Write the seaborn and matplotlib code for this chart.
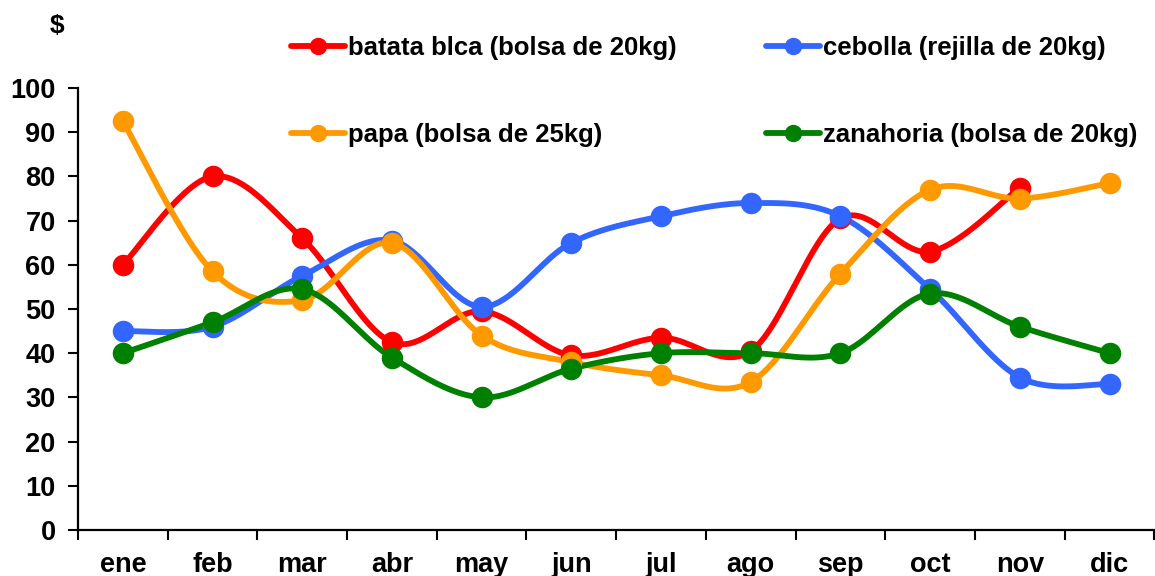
import matplotlib.pyplot as plt
from matplotlib.lines import Line2D
from matplotlib.ticker import FixedLocator, NullFormatter
import numpy as np
import pandas as pd
import seaborn as sns

MONTHS = ["ene", "feb", "mar", "abr", "may", "jun", "jul", "ago", "sep", "oct", "nov", "dic"]

BATATA = [60, 80, 66, 42.5, 49.5, 39.5, 43.5, 40.5, 70.5, 63, 77.5, np.nan]
CEBOLLA = [45, 46, 57.5, 65.5, 50.5, 65, 71, 74, 71, 54.5, 34.5, 33]
PAPA = [92.5, 58.5, 52, 65, 44, 38, 35, 33.5, 58, 77, 75, 78.5]
ZANAHORIA = [40, 47, 54.5, 39, 30, 36.5, 40, 40, 40, 53.5, 46, 40]

SERIES = [
    ("batata blca (bolsa de 20kg)", BATATA, "#FF0000"),
    ("cebolla (rejilla de 20kg)", CEBOLLA, "#3366FF"),
    ("papa (bolsa de 25kg)", PAPA, "#FF9900"),
    ("zanahoria (bolsa de 20kg)", ZANAHORIA, "#008000"),
]
Y_TICKS = list(range(0, 101, 10))


def smooth_curve(xs, ys, n=40):
    # Excel-style smoothed line: cubic Bezier with Catmull-Rom control points
    pts = np.column_stack([xs, ys])
    out = []
    for i in range(len(pts) - 1):
        p0 = pts[max(i - 1, 0)]
        p1 = pts[i]
        p2 = pts[i + 1]
        p3 = pts[min(i + 2, len(pts) - 1)]
        c1 = p1 + (p2 - p0) / 6.0
        c2 = p2 - (p3 - p1) / 6.0
        t = np.linspace(0, 1, n)[:, None]
        seg = ((1 - t) ** 3) * p1 + 3 * ((1 - t) ** 2) * t * c1 + 3 * (1 - t) * t ** 2 * c2 + t ** 3 * p2
        out.append(seg if i == 0 else seg[1:])
    return np.vstack(out)


sns.set_theme(style="white")
plt.rcParams["font.family"] = ["Liberation Sans", "DejaVu Sans"]
plt.rcParams["font.weight"] = "bold"
plt.rcParams["text.color"] = "black"
plt.rcParams["xtick.color"] = "black"
plt.rcParams["ytick.color"] = "black"

fig = plt.figure(figsize=(11.55, 5.76), dpi=100)
ax = fig.add_axes([0.0675, 0.080, 0.932, 0.767])

handles = []
for label, vals, color in SERIES:
    x = np.arange(len(MONTHS), dtype=float)
    y = np.array(vals, dtype=float)
    ok = ~np.isnan(y)
    curve = smooth_curve(x[ok], y[ok])
    df = pd.DataFrame({"x": curve[:, 0], "y": curve[:, 1]})
    sns.lineplot(data=df, x="x", y="y", sort=False, estimator=None, color=color,
                 linewidth=4.2, ax=ax, legend=False)
    pts = pd.DataFrame({"x": x[ok], "y": y[ok]})
    sns.scatterplot(data=pts, x="x", y="y", color=color, s=240, linewidth=0,
                    ax=ax, legend=False, zorder=3)
    handles.append(Line2D([0], [0], color=color, linewidth=4.2, marker="o",
                          markersize=11.5, label=label))

ax.set_xlim(-0.5, len(MONTHS) - 0.5)
ax.set_ylim(0, 100)
ax.set_xlabel("")
ax.set_ylabel("")

ax.set_xticks(np.arange(len(MONTHS)))
ax.set_xticklabels(MONTHS)
ax.xaxis.set_minor_locator(FixedLocator(np.arange(-0.5, len(MONTHS), 1.0)))
ax.xaxis.set_minor_formatter(NullFormatter())
ax.tick_params(axis="x", which="major", length=0, pad=16, labelsize=19.5)
ax.tick_params(axis="x", which="minor", length=7, width=1.5, direction="out",
               color="black", bottom=True)
ax.set_yticks(Y_TICKS)
ax.tick_params(axis="y", length=7, width=1.5, direction="out", pad=9,
               labelsize=19.5, color="black", left=True)
for lab in ax.get_xticklabels() + ax.get_yticklabels():
    lab.set_fontweight("bold")
    lab.set_color("black")

for side in ("top", "right"):
    ax.spines[side].set_visible(False)
for side in ("left", "bottom"):
    ax.spines[side].set_color("black")
    ax.spines[side].set_linewidth(1.6)
ax.grid(False)

order = [handles[0], handles[2], handles[1], handles[3]]
leg = fig.legend(handles=order, ncol=2, loc="upper left", bbox_to_anchor=(0.232, 0.978),
                 frameon=False, handlelength=2.1, handletextpad=0.1,
                 labelspacing=2.45, columnspacing=3.5, prop={"weight": "bold", "size": 18.5})
for t in leg.get_texts():
    t.set_color("black")

fig.text(0.049, 0.955, "$", fontsize=19, fontweight="bold", ha="center", va="center")

fig.savefig("out.png", dpi=100, facecolor="white")
